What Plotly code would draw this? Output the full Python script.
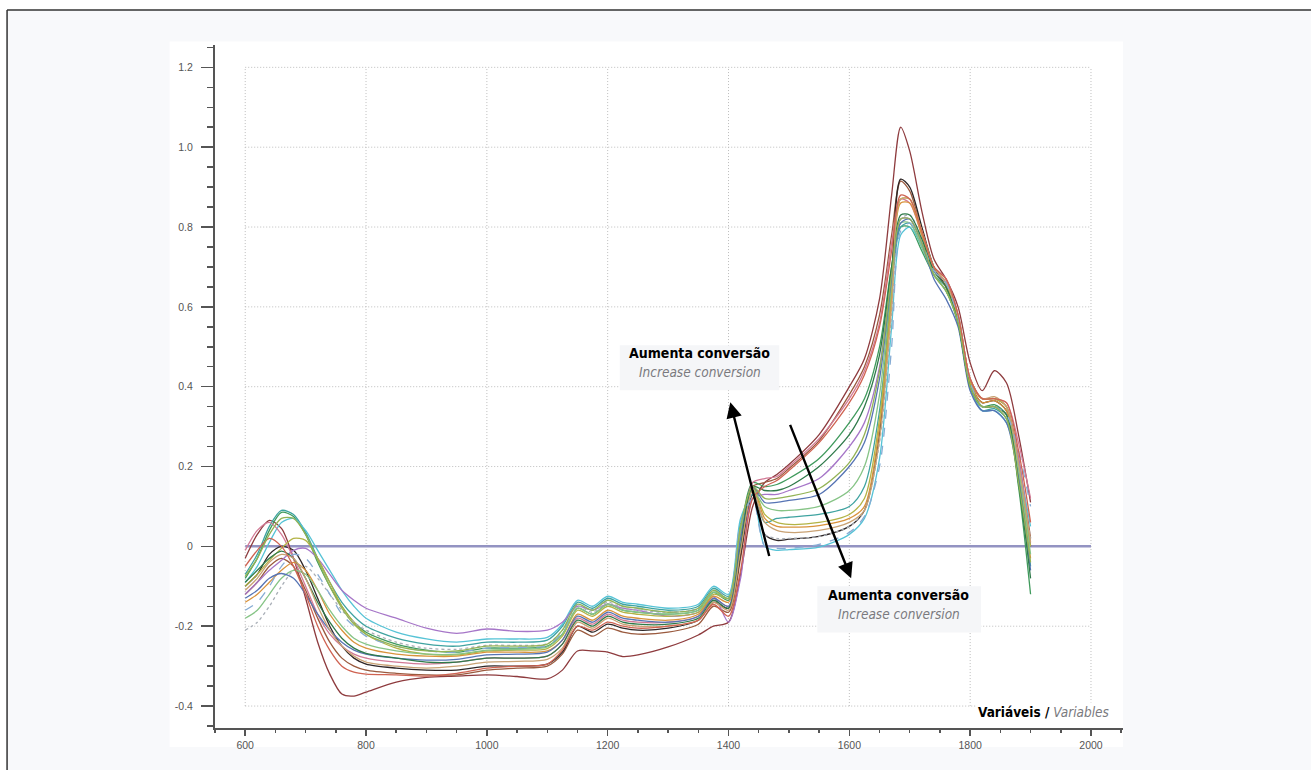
import plotly.graph_objects as go

# ---------------- data ----------------
wavelength = [600, 620, 640, 660, 680, 700, 720, 740, 760, 780, 800,
              850, 900, 950, 1000, 1050, 1100,
              1125, 1150, 1175, 1200, 1225, 1250, 1300, 1350, 1375, 1400,
              1420, 1440, 1460, 1480, 1500, 1550, 1600, 1625, 1650, 1670,
              1685, 1700, 1720, 1740, 1760, 1780, 1800, 1820, 1840, 1860, 1880, 1900]

s01 = [-0.03, 0.03, 0.065, 0.045, -0.03, -0.13, -0.24, -0.32, -0.37, -0.375, -0.365,
       -0.34, -0.328, -0.325, -0.322, -0.326, -0.332,
       -0.31, -0.262, -0.262, -0.265, -0.276, -0.272, -0.252, -0.222, -0.2, -0.19,
       -0.07, 0.1, 0.16, 0.18, 0.205, 0.28, 0.40, 0.47, 0.62, 0.88,
       1.05, 0.99, 0.84, 0.72, 0.67, 0.6, 0.46, 0.39, 0.44, 0.41, 0.28, 0.11]
s02 = [-0.12, -0.09, -0.05, -0.03, -0.05, -0.11, -0.18, -0.24, -0.28, -0.30, -0.31,
       -0.318, -0.322, -0.322, -0.31, -0.305, -0.30,
       -0.27, -0.21, -0.225, -0.205, -0.215, -0.22, -0.215, -0.195, -0.15, -0.165,
       -0.03, 0.15, 0.16, 0.17, 0.195, 0.265, 0.38, 0.45, 0.58, 0.78,
       0.915, 0.89, 0.79, 0.7, 0.66, 0.58, 0.42, 0.37, 0.37, 0.35, 0.22, 0.02]
s03 = [-0.10, -0.07, -0.02, 0.0, -0.01, -0.06, -0.13, -0.2, -0.25, -0.28, -0.295,
       -0.305, -0.31, -0.31, -0.3, -0.3, -0.295,
       -0.265, -0.2, -0.215, -0.195, -0.205, -0.21, -0.205, -0.185, -0.14, -0.155,
       -0.02, 0.13, 0.03, 0.015, 0.018, 0.025, 0.05, 0.09, 0.28, 0.68,
       0.92, 0.9, 0.8, 0.7, 0.65, 0.57, 0.41, 0.36, 0.365, 0.34, 0.2, 0.0]
s04 = [-0.08, -0.03, 0.04, 0.085, 0.075, 0.03, -0.04, -0.1, -0.15, -0.19, -0.215,
       -0.245, -0.26, -0.265, -0.255, -0.255, -0.25,
       -0.22, -0.155, -0.17, -0.145, -0.16, -0.165, -0.17, -0.16, -0.115, -0.135,
       0.04, 0.16, 0.15, 0.155, 0.17, 0.22, 0.31, 0.37, 0.50, 0.70,
       0.80, 0.80, 0.74, 0.68, 0.64, 0.56, 0.40, 0.35, 0.355, 0.33, 0.15, -0.12]
s05 = [-0.07, -0.02, 0.05, 0.09, 0.08, 0.035, -0.03, -0.09, -0.14, -0.175, -0.2,
       -0.23, -0.245, -0.25, -0.24, -0.24, -0.235,
       -0.2, -0.14, -0.155, -0.13, -0.145, -0.15, -0.16, -0.15, -0.105, -0.125,
       0.06, 0.14, 0.06, 0.07, 0.073, 0.08, 0.1, 0.15, 0.34, 0.64,
       0.80, 0.81, 0.75, 0.68, 0.65, 0.56, 0.40, 0.34, 0.345, 0.32, 0.18, -0.05]
s06 = [-0.09, -0.05, 0.01, 0.06, 0.07, 0.04, -0.01, -0.06, -0.11, -0.15, -0.18,
       -0.215, -0.232, -0.24, -0.232, -0.232, -0.228,
       -0.195, -0.135, -0.15, -0.125, -0.14, -0.145, -0.155, -0.145, -0.1, -0.12,
       0.07, 0.13, 0.0, -0.01, -0.008, -0.002, 0.03, 0.07, 0.22, 0.55,
       0.78, 0.80, 0.75, 0.68, 0.64, 0.56, 0.40, 0.34, 0.34, 0.31, 0.2, 0.05]
s07 = [-0.12, -0.09, -0.06, -0.035, -0.01, -0.005, -0.03, -0.07, -0.11, -0.135, -0.155,
       -0.18, -0.205, -0.218, -0.207, -0.213, -0.21,
       -0.19, -0.15, -0.16, -0.145, -0.155, -0.16, -0.175, -0.165, -0.125, -0.19,
       -0.08, 0.12, 0.13, 0.13, 0.14, 0.17, 0.25, 0.31, 0.45, 0.68,
       0.82, 0.82, 0.76, 0.69, 0.66, 0.57, 0.41, 0.35, 0.35, 0.33, 0.22, 0.0]
s08 = [-0.01, 0.04, 0.06, 0.03, -0.03, -0.1, -0.17, -0.22, -0.25, -0.27, -0.28,
       -0.29, -0.295, -0.29, -0.28, -0.28, -0.275,
       -0.245, -0.18, -0.195, -0.17, -0.185, -0.19, -0.19, -0.175, -0.13, -0.15,
       0.0, 0.16, 0.17, 0.175, 0.2, 0.27, 0.37, 0.44, 0.56, 0.76,
       0.87, 0.86, 0.78, 0.70, 0.67, 0.58, 0.42, 0.37, 0.37, 0.36, 0.26, 0.12]
s09 = [-0.14, -0.12, -0.09, -0.06, -0.04, -0.06, -0.11, -0.17, -0.21, -0.24, -0.255,
       -0.27, -0.275, -0.275, -0.265, -0.265, -0.262,
       -0.235, -0.17, -0.185, -0.16, -0.175, -0.18, -0.185, -0.17, -0.125, -0.14,
       0.03, 0.15, 0.07, 0.05, 0.048, 0.052, 0.07, 0.1, 0.3, 0.62,
       0.86, 0.86, 0.78, 0.69, 0.65, 0.57, 0.41, 0.36, 0.365, 0.34, 0.17, -0.03]
s10 = [-0.10, -0.07, -0.035, -0.005, 0.02, 0.015, -0.03, -0.09, -0.15, -0.19, -0.22,
       -0.255, -0.27, -0.272, -0.262, -0.26, -0.256,
       -0.225, -0.16, -0.175, -0.15, -0.165, -0.17, -0.175, -0.165, -0.12, -0.13,
       0.05, 0.15, 0.08, 0.06, 0.055, 0.06, 0.08, 0.12, 0.32, 0.64,
       0.87, 0.87, 0.79, 0.70, 0.66, 0.57, 0.41, 0.37, 0.37, 0.35, 0.2, 0.0]
s11 = [-0.21, -0.19, -0.15, -0.1, -0.06, -0.05, -0.08, -0.12, -0.16, -0.19, -0.21,
       -0.24, -0.255, -0.258, -0.248, -0.248, -0.244,
       -0.21, -0.15, -0.165, -0.14, -0.155, -0.16, -0.165, -0.155, -0.11, -0.13,
       0.05, 0.13, 0.03, 0.02, 0.02, 0.025, 0.05, 0.09, 0.26, 0.58,
       0.82, 0.83, 0.77, 0.69, 0.66, 0.57, 0.4, 0.35, 0.35, 0.33, 0.2, 0.02]
s12 = [-0.18, -0.16, -0.12, -0.08, -0.06, -0.07, -0.11, -0.16, -0.2, -0.23, -0.245,
       -0.262, -0.27, -0.27, -0.26, -0.258, -0.252,
       -0.22, -0.155, -0.17, -0.145, -0.16, -0.165, -0.17, -0.16, -0.115, -0.13,
       0.04, 0.14, 0.1, 0.09, 0.09, 0.1, 0.14, 0.2, 0.38, 0.66,
       0.81, 0.81, 0.75, 0.68, 0.64, 0.56, 0.40, 0.35, 0.35, 0.33, 0.19, -0.02]
s13 = [-0.13, -0.11, -0.08, -0.068, -0.08, -0.12, -0.17, -0.21, -0.24, -0.26, -0.27,
       -0.28, -0.285, -0.283, -0.272, -0.27, -0.265,
       -0.235, -0.175, -0.19, -0.165, -0.18, -0.185, -0.19, -0.175, -0.13, -0.15,
       0.02, 0.15, 0.11, 0.11, 0.115, 0.13, 0.2, 0.26, 0.42, 0.67,
       0.81, 0.82, 0.76, 0.67, 0.62, 0.55, 0.39, 0.34, 0.34, 0.31, 0.17, -0.06]
s14 = [-0.09, -0.06, -0.03, -0.012, -0.03, -0.08, -0.14, -0.19, -0.23, -0.255, -0.268,
       -0.28, -0.29, -0.29, -0.28, -0.28, -0.275,
       -0.245, -0.185, -0.2, -0.175, -0.19, -0.195, -0.195, -0.18, -0.135, -0.155,
       0.0, 0.15, 0.14, 0.14, 0.15, 0.2, 0.28, 0.35, 0.48, 0.70,
       0.83, 0.83, 0.77, 0.69, 0.65, 0.56, 0.4, 0.35, 0.35, 0.33, 0.16, -0.08]
s15 = [-0.11, -0.08, -0.04, -0.02, -0.03, -0.08, -0.15, -0.21, -0.25, -0.275, -0.29,
       -0.3, -0.305, -0.3, -0.29, -0.288, -0.283,
       -0.255, -0.19, -0.205, -0.18, -0.195, -0.2, -0.2, -0.185, -0.14, -0.16,
       -0.01, 0.14, 0.06, 0.04, 0.035, 0.04, 0.06, 0.09, 0.27, 0.6,
       0.87, 0.87, 0.79, 0.70, 0.66, 0.58, 0.42, 0.37, 0.375, 0.35, 0.21, 0.01]
s16 = [-0.16, -0.14, -0.1, -0.05, -0.02, -0.03, -0.07, -0.12, -0.17, -0.2, -0.225,
       -0.25, -0.262, -0.265, -0.255, -0.253, -0.248,
       -0.215, -0.145, -0.16, -0.135, -0.15, -0.155, -0.165, -0.155, -0.11, -0.125,
       0.06, 0.12, 0.0, -0.005, -0.005, 0.005, 0.035, 0.075, 0.2, 0.5,
       0.79, 0.81, 0.76, 0.69, 0.66, 0.57, 0.41, 0.35, 0.35, 0.33, 0.24, 0.1]
s17 = [-0.05, -0.01, 0.02, 0.0, -0.05, -0.12, -0.2, -0.26, -0.3, -0.315, -0.32,
       -0.322, -0.325, -0.318, -0.305, -0.3, -0.295,
       -0.26, -0.2, -0.21, -0.19, -0.2, -0.205, -0.2, -0.185, -0.145, -0.175,
       -0.06, 0.12, 0.15, 0.165, 0.19, 0.26, 0.36, 0.43, 0.55, 0.74,
       0.88, 0.87, 0.79, 0.70, 0.67, 0.58, 0.42, 0.37, 0.37, 0.36, 0.24, 0.06]
s18 = [-0.075, -0.03, 0.03, 0.07, 0.07, 0.03, -0.035, -0.1, -0.155, -0.195, -0.22,
       -0.25, -0.262, -0.262, -0.25, -0.25, -0.245,
       -0.21, -0.145, -0.16, -0.135, -0.15, -0.155, -0.165, -0.155, -0.11, -0.13,
       0.05, 0.15, 0.12, 0.12, 0.125, 0.145, 0.21, 0.28, 0.44, 0.68,
       0.82, 0.82, 0.76, 0.68, 0.64, 0.56, 0.40, 0.35, 0.35, 0.32, 0.16, -0.04]

spectra = [s01, s02, s03, s04, s05, s06, s07, s08, s09, s10, s11, s12, s13, s14, s15, s16, s17, s18]
line_colors = ["#8e3b3e", "#9a5a3e", "#2e2626", "#3f9a5c", "#3fa3a0", "#56c3d6", "#a676c8", "#d27a96",
               "#d9933c", "#b3b345", "#a8aeb6", "#86c486", "#5674b4", "#2f7a4a", "#c9a274", "#86acd4",
               "#cf6352", "#93b355"]
line_dashes = ["solid"] * 10 + ["dot"] + ["solid"] * 4 + ["dash"] + ["solid"] * 2

x_ticks = [600, 800, 1000, 1200, 1400, 1600, 1800, 2000]
y_ticks = [-0.4, -0.2, 0, 0.2, 0.4, 0.6, 0.8, 1.0, 1.2]
y_tick_text = ["-0.4", "-0.2", "0", "0.2", "0.4", "0.6", "0.8", "1.0", "1.2"]

arrows = [  # (head_x, head_y, tail_x, tail_y)
    (1403, 0.361, 1468, -0.028),
    (1603, -0.080, 1501, 0.308),
]
labels = [  # (x, y_top_line, y_bottom_line)
    (1352, 0.484, 0.436),
    (1682, -0.123, -0.170),
]
label_pt = "Aumenta conversão"
label_en = "Increase conversion"

# ---------------- figure ----------------
fig = go.Figure()

for ys, col, dash in zip(spectra, line_colors, line_dashes):
    fig.add_trace(go.Scatter(x=wavelength, y=ys, mode="lines",
                             line=dict(color=col, width=1.3, dash=dash, shape="spline", smoothing=0.8),
                             hoverinfo="skip", showlegend=False))

grid_line = dict(color="#bdbdbd", width=1, dash="1px,2px")
shapes = []
# light page panel inside the outer frame
shapes.append(dict(type="rect", xref="paper", yref="paper", x0=-0.229, x1=1.25, y0=-0.1, y1=1.0512,
                   fillcolor="#f8f9fb", line=dict(width=0), layer="below"))
# white panel behind plot
shapes.append(dict(type="rect", xref="paper", yref="paper", x0=-0.05, x1=1.0, y0=-0.028, y1=1.005,
                   fillcolor="white", line=dict(width=0), layer="below"))
# dotted grid box
for xv in x_ticks:
    shapes.append(dict(type="line", xref="x", yref="y", x0=xv, x1=xv, y0=y_ticks[0], y1=y_ticks[-1],
                       line=grid_line, layer="below"))
for yv in y_ticks:
    if yv == 0:
        continue
    shapes.append(dict(type="line", xref="x", yref="y", x0=x_ticks[0], x1=x_ticks[-1], y0=yv, y1=yv,
                       line=grid_line, layer="below"))
# label boxes
shapes.append(dict(type="rect", xref="x", yref="y", x0=1220, x1=1484, y0=0.391, y1=0.504,
                   fillcolor="#f5f6f8", line=dict(width=0), layer="below"))
shapes.append(dict(type="rect", xref="x", yref="y", x0=1547, x1=1818, y0=-0.216, y1=-0.1,
                   fillcolor="#f5f6f8", line=dict(width=0), layer="below"))
# zero line
shapes.append(dict(type="line", xref="x", yref="y", x0=x_ticks[0], x1=x_ticks[-1], y0=0, y1=0,
                   line=dict(color="#9393c2", width=2.5), layer="below"))
# outer frame
shapes.append(dict(type="line", xref="paper", yref="paper", x0=-0.229, x1=1.25, y0=1.0512, y1=1.0512,
                   line=dict(color="#333333", width=1.5)))
shapes.append(dict(type="line", xref="paper", yref="paper", x0=-0.229, x1=-0.229, y0=1.0512, y1=-0.1,
                   line=dict(color="#333333", width=1.5)))

annotations = []
for hx, hy, tx, ty in arrows:
    annotations.append(dict(x=hx, y=hy, ax=tx, ay=ty, xref="x", yref="y", axref="x", ayref="y",
                            text="", showarrow=True, arrowhead=2, arrowsize=1.3, arrowwidth=2.4,
                            arrowcolor="black", standoff=0, startstandoff=0))
narrow = "Liberation Sans Narrow, DejaVu Sans Condensed, Arial Narrow, sans-serif"
for lx, y1, y2 in labels:
    annotations.append(dict(x=lx, y=y1, xref="x", yref="y", text="<b>" + label_pt + "</b>", showarrow=False,
                            font=dict(family=narrow, size=14, color="black")))
    annotations.append(dict(x=lx, y=y2, xref="x", yref="y", text="<i>" + label_en + "</i>", showarrow=False,
                            font=dict(family=narrow, size=13.5, color="#7a7a7e")))
annotations.append(dict(x=2035, y=-0.416, xref="x", yref="y", xanchor="right", showarrow=False,
                        text="<b>Variáveis /</b> <i><span style='color:#7a7a7e'>Variables</span></i>",
                        font=dict(family=narrow, size=13.5, color="black"), bgcolor="white"))

tick_font = dict(family="Liberation Sans, Arial, sans-serif", size=10.5, color="#555555")
fig.update_layout(
    width=1311, height=770,
    margin=dict(l=215, r=188, t=45, b=42),
    paper_bgcolor="white", plot_bgcolor="white",
    shapes=shapes, annotations=annotations,
    xaxis=dict(range=[550, 2053], tickvals=x_ticks, showgrid=False, zeroline=False,
               showline=True, linecolor="#555555", linewidth=2, ticks="outside", ticklen=6,
               tickcolor="#555555", tickwidth=1.5,
               minor=dict(dtick=50, tick0=0, ticks="outside", ticklen=3, tickcolor="#555555", showgrid=False),
               tickfont=tick_font),
    yaxis=dict(range=[-0.455, 1.256], tickvals=y_ticks, ticktext=y_tick_text, showgrid=False, zeroline=False,
               showline=True, linecolor="#555555", linewidth=2, ticks="outside", ticklen=12,
               tickcolor="#555555", tickwidth=1.5, ticklabelstandoff=6,
               minor=dict(dtick=0.05, tick0=0, ticks="outside", ticklen=6, tickcolor="#555555", showgrid=False),
               tickfont=tick_font),
)

fig.write_html("out.html", config={"displayModeBar": False, "staticPlot": True},
               post_script="document.body.style.margin='0';document.body.style.overflow='hidden';")
